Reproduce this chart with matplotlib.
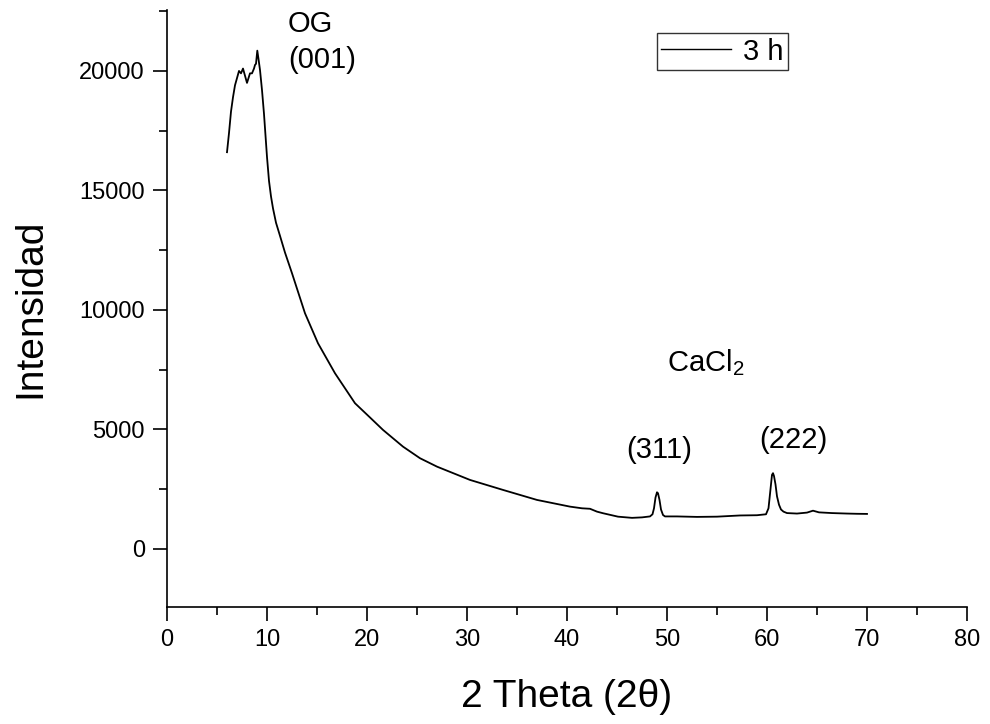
import matplotlib
matplotlib.use("Agg")
import matplotlib.pyplot as plt
from matplotlib.ticker import MultipleLocator

plt.rcParams['font.family'] = ['Liberation Sans', 'DejaVu Sans']
plt.rcParams['mathtext.fontset'] = 'custom'
plt.rcParams['mathtext.rm'] = 'Liberation Sans'

# ---- data ----
two_theta = [6.0, 6.2, 6.4, 6.6, 6.8, 7.0, 7.2, 7.4, 7.6, 7.8, 8.0, 8.15, 8.3, 8.5, 8.7, 8.8, 8.9, 9.03, 9.15, 9.3, 9.5, 9.7, 9.85,
             10.0, 10.2, 10.4, 10.6, 10.9, 11.3, 11.8, 12.5, 13.8, 15.1, 16.8, 18.8, 20.3, 21.6, 23.6, 25.3, 27.0, 30.3, 33.6, 37.0,
             40.3, 41.5, 42.3, 43.0, 43.6, 45.1, 46.5, 47.5, 48.3, 48.55, 48.7, 48.85, 49.0, 49.1, 49.25, 49.4, 49.6, 49.8,
             51.0, 53.0, 55.0, 57.3, 59.0, 59.9, 60.15, 60.35, 60.5, 60.6, 60.7, 60.85, 61.0, 61.2, 61.4, 61.65, 62.0,
             63.0, 64.0, 64.6, 65.2, 66.5, 68.0, 69.0, 70.0]
intensity = [16600, 17400, 18300, 18900, 19400, 19700, 20000, 19900, 20100, 19800, 19500, 19700, 19900, 19900, 20100, 20250, 20300, 20850, 20500, 20040, 19200, 18200, 17300,
             16400, 15400, 14750, 14250, 13650, 13100, 12400, 11535, 9860, 8605, 7350, 6096, 5500, 4980, 4280, 3795, 3443, 2887, 2469, 2050,
             1770, 1700, 1680, 1560, 1494, 1350, 1300, 1320, 1360, 1450, 1700, 2150, 2370, 2330, 2050, 1650, 1420, 1360,
             1360, 1340, 1350, 1400, 1410, 1450, 1700, 2500, 3100, 3170, 3050, 2700, 2200, 1850, 1650, 1560, 1500,
             1480, 1520, 1600, 1530, 1500, 1480, 1470, 1465]

x_ticks = [0, 10, 20, 30, 40, 50, 60, 70, 80]
y_ticks = [0, 5000, 10000, 15000, 20000]

fig = plt.figure(figsize=(9.9, 7.24), dpi=100)
ax = fig.add_axes([167/990, 1 - 607/724, 800/990, 597/724])

ax.plot(two_theta, intensity, color='black', lw=1.3, label='3 h')

ax.set_xlim(0, 80)
ax.set_ylim(-2430, 22550)
ax.set_xticks(x_ticks)
ax.set_yticks(y_ticks)
ax.xaxis.set_minor_locator(MultipleLocator(5))
ax.yaxis.set_minor_locator(MultipleLocator(2500))
ax.tick_params(which='major', direction='out', length=10, width=1.2, labelsize=17, pad=6)
ax.tick_params(which='minor', direction='out', length=6, width=1.2)
for s in ['top', 'right']:
    ax.spines[s].set_visible(False)
for s in ['left', 'bottom']:
    ax.spines[s].set_linewidth(1.2)

ax.set_xlabel('2 Theta (2θ)', fontsize=28, labelpad=20)
ax.set_ylabel('Intensidad', fontsize=28, labelpad=22)

ax.text(12.1, 21966, 'OG', fontsize=21, ha='left', va='center')
ax.text(12.1, 20460, '(001)', fontsize=21, ha='left', va='center')
ax.text(50.0, 7418, r'CaCl$_\mathregular{2}$', fontsize=21, ha='left', va='baseline')
ax.text(49.2, 4142, '(311)', fontsize=21, ha='center', va='center')
ax.text(62.6, 4560, '(222)', fontsize=21, ha='center', va='center')

leg = ax.legend(loc='upper left', bbox_to_anchor=((656.7-167)/800, (607-33.3)/597),
                fontsize=21, frameon=True, fancybox=False, handlelength=2.4,
                handletextpad=0.4, borderpad=0.15, borderaxespad=0)
leg.get_frame().set_edgecolor('black')
leg.get_frame().set_linewidth(1.0)
for l in leg.get_lines():
    l.set_linewidth(1.0)

fig.savefig('out.png', dpi=100)
